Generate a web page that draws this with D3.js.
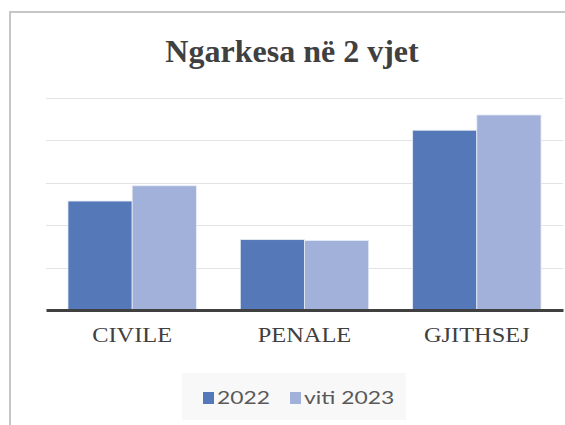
<!DOCTYPE html>
<meta charset="utf-8">
<head>
  <title>Ngarkesa ne 2 vjet</title>
  <style>
    body { margin: 0; background: #fff; }
  </style>
</head>
<body>
<script src="https://cdn.jsdelivr.net/npm/d3@7"></script>
<script>

const categories = ["CIVILE", "PENALE", "GJITHSEJ"];
const seriesNames = ["2022", "viti 2023"];
const values2022 = [257, 166, 424];
const values2023 = [293, 164, 460];
const gridTicks = [0, 100, 200, 300, 400, 500];
const colors = ["#5578B8", "#A1B1D9"];

const totalWidth = 565, totalHeight = 425,
      margin = {top: 98, right: 2, bottom: 115, left: 46},
      width = totalWidth - margin.left - margin.right,
      height = 310 - margin.top;

const svg = d3.select("body")
    .append("svg")
    .attr("width", totalWidth)
    .attr("height", totalHeight);

// chart frame (cut off at right and bottom)
svg.append("rect")
  .attr("x", 10).attr("y", 12)
  .attr("width", 600).attr("height", 500)
  .style("fill", "none")
  .style("stroke", "#C6C6C6")
  .style("stroke-width", 2);

svg.append("text")
  .attr("x", 292).attr("y", 62)
  .attr("text-anchor", "middle")
  .style("font-family", "'Liberation Serif', serif")
  .style("font-weight", "bold")
  .style("font-size", "32px")
  .style("fill", "#404040")
  .text("Ngarkesa në 2 vjet");

const g = svg.append("g")
    .attr("transform", "translate(" + margin.left + "," + margin.top + ")");

const x = d3.scaleBand()
    .domain(categories)
    .range([0, width])
    .paddingInner(0.255)
    .paddingOuter(0.1275);

const xInner = d3.scaleBand()
    .domain(seriesNames)
    .range([0, x.bandwidth()]);

const y = d3.scaleLinear()
    .domain([0, 500])
    .range([height, 0]);

// gridlines
g.append("g")
  .selectAll("line")
  .data(gridTicks.slice(1))
  .join("line")
  .attr("x1", 0).attr("x2", width)
  .attr("y1", d => Math.round(y(d)) + 0.5)
  .attr("y2", d => Math.round(y(d)) + 0.5)
  .style("stroke", "#E3E3E3")
  .style("stroke-width", 1);

const rows = categories.map((c, i) => ({cat: c, vals: [values2022[i], values2023[i]]}));

g.append("g")
  .selectAll("g")
  .data(rows)
  .join("g")
  .attr("transform", d => "translate(" + x(d.cat) + ",0)")
  .selectAll("rect")
  .data(d => d.vals.map((v, j) => ({name: seriesNames[j], v: v, j: j})))
  .join("rect")
  .attr("x", d => xInner(d.name))
  .attr("width", xInner.bandwidth())
  .attr("y", d => y(d.v))
  .attr("height", d => y(0) - y(d.v))
  .style("fill", d => colors[d.j])
  .style("stroke", "#E8EDF7")
  .style("stroke-width", 0.8);

// category axis
const xAxis = g.append("g")
  .attr("transform", "translate(0," + height + ")")
  .call(d3.axisBottom(x).tickSize(0).tickPadding(18));
xAxis.select(".domain")
  .style("stroke", "#404040")
  .style("stroke-width", 3);
xAxis.selectAll("text")
  .attr("transform", "scale(1.22,1)")
  .style("font-family", "'Liberation Serif', serif")
  .style("font-size", "20px")
  .style("fill", "#404040");

// legend
const legend = svg.append("g");
legend.append("rect")
  .attr("x", 182).attr("y", 373)
  .attr("width", 224).attr("height", 47)
  .style("fill", "#F8F8F8");

const legendX = [203, 290];
const items = legend.selectAll("g")
  .data(seriesNames)
  .join("g")
  .attr("transform", (d, i) => "translate(" + legendX[i] + ",392)");
items.append("rect")
  .attr("width", 11).attr("height", 12)
  .style("fill", (d, i) => colors[i]);
items.append("text")
  .attr("transform", "translate(14,12) scale(1.27,1)")
  .style("font-family", "Lato, sans-serif")
  .style("font-size", "18px")
  .style("fill", "#595959")
  .text(d => d);

</script>
</body>
</html>
